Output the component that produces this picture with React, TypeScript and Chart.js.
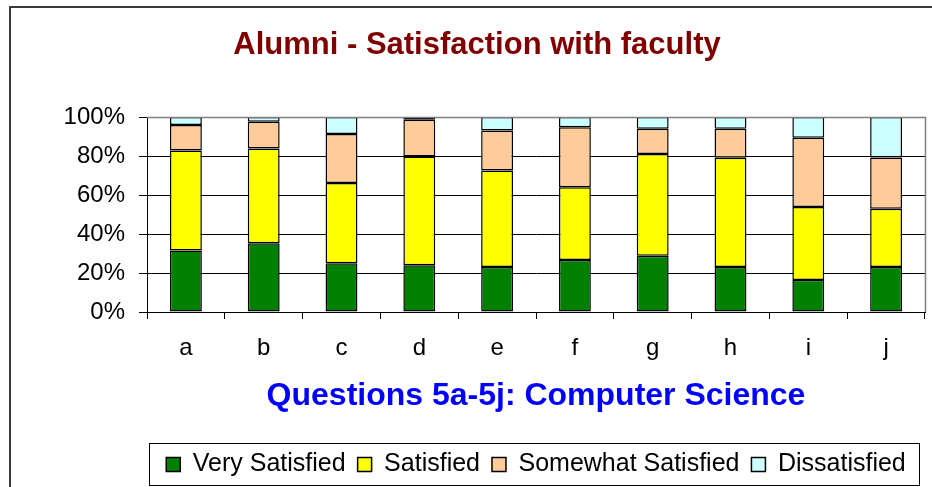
import React, { useEffect, useRef } from "react";
import { Chart, registerables } from "chart.js";

Chart.register(...registerables);

const categories = ["a", "b", "c", "d", "e", "f", "g", "h", "i", "j"];
const verySatisfied = [31.5, 35.3, 25, 24, 23.1, 26.7, 28.8, 23.1, 16.4, 23.1];
const satisfied = [51.3, 48.6, 41.1, 55.8, 49.5, 37.3, 52.2, 56, 37.5, 29.9];
const somewhatSatisfied = [13.1, 13.7, 25.2, 18.8, 20.5, 30.8, 13, 14.9, 35.5, 26.2];
const dissatisfied = [4.1, 2.4, 8.7, 1.4, 6.9, 5.2, 6, 6, 10.6, 20.8];
const yTicks = [0, 20, 40, 60, 80, 100];

const FONT = "'Liberation Sans', Arial, Helvetica, sans-serif";

const frame = {
  id: "frame",
  afterDatasetsDraw(chart: any) {
    const { ctx, chartArea } = chart;
    ctx.save();
    ctx.strokeStyle = "#808080";
    ctx.lineWidth = 1.5;
    ctx.beginPath();
    ctx.moveTo(chartArea.left, chartArea.top + 0.5);
    ctx.lineTo(chartArea.right + 0.5, chartArea.top + 0.5);
    ctx.lineTo(chartArea.right + 0.5, chartArea.bottom);
    ctx.stroke();
    ctx.restore();
  },
  afterDraw(chart: any) {
    const { ctx, chartArea, legend } = chart;
    if (!legend) return;
    ctx.save();
    ctx.strokeStyle = "#000";
    ctx.lineWidth = 1;
    const left = chartArea.left + 2.5;
    const right = chartArea.right - 5.5;
    const top = Math.round(legend.top + 3) + 0.5;
    const bottom = Math.round(legend.bottom - 2) + 0.5;
    ctx.strokeRect(left, top, right - left, bottom - top);
    ctx.restore();
  },
};

export default function App() {
  const ref = useRef<HTMLCanvasElement | null>(null);

  useEffect(() => {
    document.body.style.margin = "0";
    const canvas = ref.current;
    if (!canvas) return;
    const mk = (label: string, data: number[], color: string) => ({
      label,
      data,
      backgroundColor: color,
      borderColor: "#000000",
      borderWidth: 1.5,
      borderSkipped: false,
      categoryPercentage: 1,
      barPercentage: 0.41,
    });
    const chart = new Chart(canvas, {
      type: "bar",
      data: {
        labels: categories,
        datasets: [
          mk("Very Satisfied", verySatisfied, "#008000"),
          mk("Satisfied", satisfied, "#FFFF00"),
          mk("Somewhat Satisfied", somewhatSatisfied, "#FFCC99"),
          mk("Dissatisfied", dissatisfied, "#CCFFFF"),
        ],
      },
      options: {
        animation: false,
        responsive: false,
        devicePixelRatio: 1,
        layout: { padding: { left: 29, right: 7, top: 0, bottom: 0 } },
        plugins: {
          title: {
            display: true,
            text: "Alumni - Satisfaction with faculty",
            color: "#800000",
            font: { family: FONT, size: 31, weight: "bold" },
            padding: { top: 26.4, bottom: 53.4 },
          },
          legend: {
            display: true,
            position: "bottom",
            fullSize: false,
            labels: {
              color: "#000",
              font: { family: FONT, size: 25 },
              boxWidth: 14,
              boxHeight: 14,
              padding: 12,
            },
          },
          tooltip: { enabled: false },
        },
        scales: {
          x: {
            stacked: true,
            afterFit: (s: any) => {
              s.height = 128;
            },
            grid: {
              display: true,
              drawOnChartArea: false,
              drawTicks: true,
              tickLength: 7,
              color: "#000",
              offset: true,
            },
            border: { display: true, color: "#000", width: 1 },
            ticks: {
              color: "#000",
              font: { family: FONT, size: 24 },
              padding: 15,
            },
            title: {
              display: true,
              text: "Questions 5a-5j: Computer Science",
              color: "#0000FF",
              font: { family: FONT, size: 32, weight: "bold" },
              padding: { top: 0, bottom: 24.8 },
            },
          },
          y: {
            stacked: true,
            min: 0,
            max: 100,
            afterFit: (s: any) => {
              s.width = 118;
            },
            afterBuildTicks: (s: any) => {
              s.ticks = yTicks.map((v) => ({ value: v }));
            },
            grid: {
              color: (c: any) => (c.tick && c.tick.value === 100 ? "#808080" : "#000"),
              tickColor: "#000",
              drawTicks: true,
              tickLength: 8,
              lineWidth: 1,
            },
            border: { display: true, color: "#000", width: 1 },
            ticks: {
              color: "#000",
              font: { family: FONT, size: 24 },
              padding: 14,
              callback: (v: any) => v + "%",
            },
          },
        },
      },
      plugins: [frame],
    });
    return () => chart.destroy();
  }, []);

  return (
    <div style={{ position: "relative", width: 932, height: 487, background: "#fff", overflow: "hidden" }}>
      <div
        style={{
          position: "absolute",
          left: 9,
          top: 6,
          width: 1200,
          height: 1200,
          borderLeft: "2px solid #3a3a3a",
          borderTop: "2px solid #3a3a3a",
        }}
      />
      <canvas ref={ref} width={932} height={487} style={{ position: "absolute", left: 0, top: 0, width: 932, height: 487 }} />
    </div>
  );
}
